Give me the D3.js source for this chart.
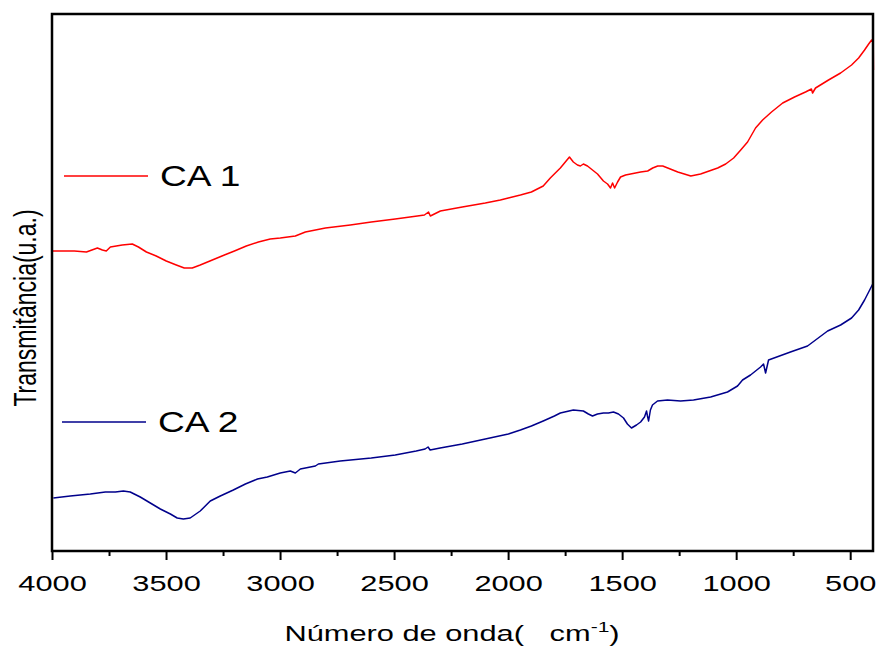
<!DOCTYPE html>
<html>
<head>
<meta charset="utf-8">
<script src="https://cdn.jsdelivr.net/npm/d3@7"></script>
<style>
  body { margin: 0; background: #fff; }
  text { font-family: "Liberation Sans", Arial, sans-serif; }
</style>
</head>
<body>
<svg width="877" height="646"></svg>
<script>
// wavenumber (cm-1), transmittance (arbitrary units)
const ca1 = [
  [4000,300],[3902,300],[3849,299],[3801,303],[3779,301],[3762,300],[3744,304],[3718,305],
  [3692,306],[3648,307],[3621,304],[3586,299],[3543,295],[3499,290],[3455,286],[3420,283],
  [3385,283],[3350,286],[3297,291],[3244,296],[3200,300],[3148,305],[3095,309],[3043,312],
  [2999,313],[2933,315],[2889,319],[2801,323],[2692,326],[2600,329],[2495,332],[2398,335],
  [2367,336],[2349,339],[2341,335],[2297,340],[2201,344],[2100,348],[2034,351],[1999,353],
  [1946,356],[1898,359],[1846,365],[1815,373],[1771,383],[1731,394],[1714,389],[1696,386],
  [1683,385],[1670,387],[1652,385],[1630,381],[1608,377],[1582,370],[1564,367],[1551,363],
  [1542,368],[1533,363],[1520,369],[1507,374],[1485,376],[1463,377],[1419,379],[1388,380],
  [1366,383],[1344,385],[1322,385],[1300,383],[1256,379],[1199,375],[1156,377],[1081,383],
  [1046,387],[1011,393],[980,401],[950,409],[915,423],[884,431],[845,439],[796,448],
  [744,454],[696,459],[670,462],[665,458],[652,463],[595,471],[542,478],[494,486],
  [463,493],[437,501],[419,507],[406,511],[399,508],[398,481]
];
const ca2 = [
  [3994,53],[3920,55],[3832,57],[3766,59],[3722,59],[3687,60],[3657,59],[3613,54],
  [3569,48],[3525,42],[3481,37],[3451,33],[3424,32],[3394,33],[3350,40],[3306,50],
  [3262,55],[3205,61],[3152,67],[3099,72],[3056,74],[2999,78],[2955,80],[2933,78],
  [2911,82],[2845,85],[2832,87],[2736,90],[2600,93],[2495,96],[2403,100],[2364,102],
  [2351,104],[2342,101],[2298,103],[2201,107],[2100,112],[1999,117],[1946,121],[1898,125],
  [1846,130],[1797,135],[1771,138],[1714,141],[1670,140],[1648,137],[1630,135],[1608,137],
  [1582,138],[1560,138],[1538,139],[1516,137],[1494,133],[1477,127],[1459,123],[1437,126],
  [1419,129],[1402,134],[1393,140],[1389,135],[1384,130],[1376,141],[1367,146],[1345,150],
  [1301,151],[1244,150],[1187,151],[1112,154],[1038,159],[994,165],[972,171],[937,176],
  [893,184],[880,187],[871,178],[858,191],[762,199],[687,205],[599,220],[542,226],
  [494,233],[463,241],[437,251],[419,259],[399,268]
];
const seriesNames = ["CA 1", "CA 2"];
const seriesColors = ["#ff0000", "#00008b"];
const majorTicks = [4000, 3500, 3000, 2500, 2000, 1500, 1000, 500];
const minorTicks = [3750, 3250, 2750, 2250, 1750, 1250, 750];

const svg = d3.select("svg");
const mLeft = 52, mRight = 873, mTop = 14, mBottom = 551;
const stretch = 1.4;   // the original picture's text is wide

let xScale = d3.scaleLinear().domain([4000, 400]).range([mLeft, mRight]);
let yScale = d3.scaleLinear().domain([0, 537]).range([mBottom, mTop]);

// x axis, major + minor ticks
let xAxis = d3.axisBottom(xScale).tickValues(majorTicks)
  .tickSizeInner(9).tickSizeOuter(0).tickPadding(15).tickFormat(d3.format("d"));
let gx = svg.append("g").attr("id", "xAxisG")
  .attr("transform", `translate(0, ${mBottom})`).call(xAxis);
gx.select(".domain").remove();
gx.selectAll("line").attr("stroke", "#000").attr("stroke-width", 2);
gx.selectAll("text").attr("font-size", 22).attr("fill", "#000")
  .attr("font-family", "Liberation Sans, Arial, sans-serif")
  .attr("transform", `scale(${stretch},1)`);

let xMinor = d3.axisBottom(xScale).tickValues(minorTicks)
  .tickSizeInner(5).tickSizeOuter(0).tickFormat("");
let gm = svg.append("g").attr("transform", `translate(0, ${mBottom})`).call(xMinor);
gm.select(".domain").remove();
gm.selectAll("line").attr("stroke", "#000").attr("stroke-width", 2);

// lines
const line = d3.line().x(d => xScale(d[0])).y(d => yScale(d[1]));
[ca1, ca2].forEach((s, i) => {
  svg.append("path")
    .datum(s)
    .attr("fill", "none")
    .attr("stroke", seriesColors[i])
    .attr("stroke-width", 1.5)
    .attr("stroke-linejoin", "round")
    .attr("d", line);
});

// frame
svg.append("rect")
  .attr("x", mLeft).attr("y", mTop)
  .attr("width", mRight - mLeft).attr("height", mBottom - mTop)
  .attr("fill", "none").attr("stroke", "#000").attr("stroke-width", 2.5);

// legend
const legendY = [176, 422];
const legendX = [64, 62];
seriesNames.forEach((name, i) => {
  svg.append("line")
    .attr("x1", legendX[i]).attr("x2", legendX[i] + 84)
    .attr("y1", legendY[i]).attr("y2", legendY[i])
    .attr("stroke", seriesColors[i]).attr("stroke-width", 1.3);
  svg.append("text")
    .attr("transform", `translate(${legendX[i] + 96}, ${legendY[i] + 10}) scale(1.28,1)`)
    .attr("font-size", 29).attr("fill", "#000")
    .text(name);
});

// axis titles
let xt = svg.append("text")
  .attr("transform", `translate(452, 641) scale(${stretch},1)`)
  .attr("text-anchor", "middle").attr("font-size", 22);
xt.append("tspan").text("Número de onda(\u00a0\u00a0\u00a0cm");
xt.append("tspan").attr("dy", -9).attr("font-size", 15).text("-1");
xt.append("tspan").attr("dy", 9).text(")");

svg.append("text")
  .attr("transform", `translate(36, 308) rotate(-90) scale(1,${stretch})`)
  .attr("text-anchor", "middle").attr("font-size", 23)
  .text("Transmitância(u.a.)");
</script>
</body>
</html>
